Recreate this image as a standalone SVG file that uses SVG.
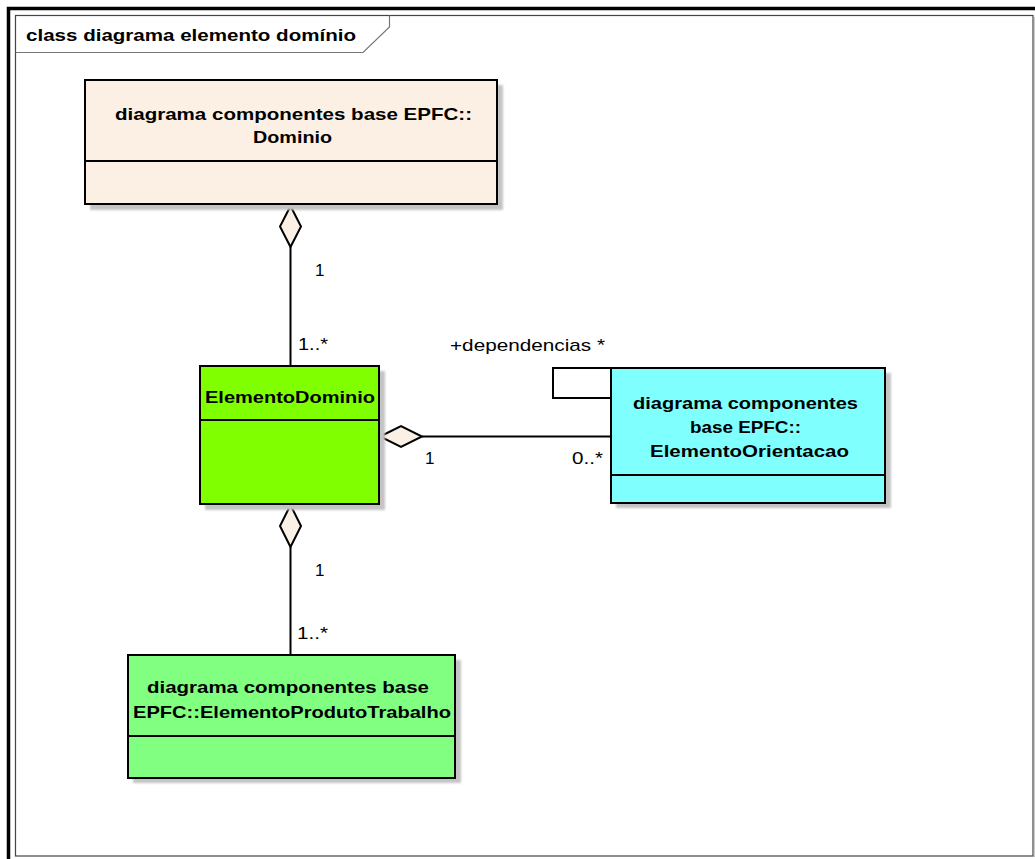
<svg xmlns="http://www.w3.org/2000/svg" width="1035" height="859" viewBox="0 0 1035 859">
  <style>
    .cls { stroke: #000; stroke-width: 2; }
    .shadow { fill: #c4c4c4; }
    .name { font-family: "Liberation Sans", Arial, sans-serif; font-weight: bold; font-size: 17px; fill: #000; }
    .lbl { font-family: "Liberation Sans", Arial, sans-serif; font-size: 17px; fill: #000; }
    .edge { stroke: #000; stroke-width: 2; fill: none; }
    .agg { fill: #faf0e6; stroke: #000; stroke-width: 2; }
  </style>
  <defs>
    <filter id="soft" x="-5%" y="-5%" width="110%" height="110%">
      <feGaussianBlur stdDeviation="1"/>
    </filter>
  </defs>

  <rect width="1035" height="859" fill="#fff"/>

  <!-- diagram frame -->
  <g id="frame">
    <path d="M8.5,859 V8.5 H1035" fill="none" stroke="#000" stroke-width="3.5"/>
    <rect x="15.5" y="15.5" width="1017.5" height="840.5" fill="none" stroke="#444" stroke-width="1.2"/>
    <line x1="1034" y1="17" x2="1034" y2="857" stroke="#999" stroke-width="1"/>
    <path d="M15.5,52.5 H363 L389.5,27 V15.5" fill="none" stroke="#777" stroke-width="1.2"/>
    <text class="name" x="26" y="41" textLength="330" lengthAdjust="spacingAndGlyphs">class diagrama elemento domínio</text>
  </g>

  <!-- connectors -->
  <g id="connectors">
    <!-- Dominio <>— ElementoDominio -->
    <line class="edge" x1="290.5" y1="247" x2="290.5" y2="366"/>
    <path class="agg" d="M290.5,206 L280,226.5 L290.5,247 L301,226.5 Z"/>
    <text class="lbl" x="315" y="276">1</text>
    <text class="lbl" x="298" y="350" textLength="30" lengthAdjust="spacingAndGlyphs">1..*</text>

    <!-- ElementoDominio <>— ElementoOrientacao -->
    <line class="edge" x1="422" y1="436.5" x2="611" y2="436.5"/>
    <path class="agg" d="M380,436.5 L401,426 L422,436.5 L401,447 Z"/>
    <text class="lbl" x="425" y="464">1</text>
    <text class="lbl" x="572" y="464" textLength="31" lengthAdjust="spacingAndGlyphs">0..*</text>

    <!-- ElementoOrientacao self association -->
    <path class="edge" d="M611,368 H553 V398 H611"/>
    <text class="lbl" x="450" y="351" textLength="155" lengthAdjust="spacingAndGlyphs">+dependencias *</text>

    <!-- ElementoDominio <>— ElementoProdutoTrabalho -->
    <line class="edge" x1="290.5" y1="547" x2="290.5" y2="655"/>
    <path class="agg" d="M290.5,505 L280,526 L290.5,547 L301,526 Z"/>
    <text class="lbl" x="315" y="576">1</text>
    <text class="lbl" x="297" y="639" textLength="31" lengthAdjust="spacingAndGlyphs">1..*</text>
  </g>

  <!-- class: Dominio -->
  <g id="dominio">
    <rect class="shadow" x="90" y="85" width="413" height="125" filter="url(#soft)"/>
    <rect class="cls" x="85" y="80" width="412" height="124" fill="#fbf0e3"/>
    <line class="cls" x1="85" y1="161" x2="497" y2="161"/>
    <text class="name" x="115" y="120" textLength="357" lengthAdjust="spacingAndGlyphs">diagrama componentes base EPFC::</text>
    <text class="name" x="253" y="143" textLength="79" lengthAdjust="spacingAndGlyphs">Dominio</text>
  </g>

  <!-- class: ElementoDominio -->
  <g id="elementoDominio">
    <rect class="shadow" x="205" y="371" width="180" height="139" filter="url(#soft)"/>
    <rect class="cls" x="200" y="366" width="179" height="138" fill="#80ff00"/>
    <line class="cls" x1="200" y1="420" x2="379" y2="420"/>
    <text class="name" x="205" y="403" textLength="170" lengthAdjust="spacingAndGlyphs">ElementoDominio</text>
  </g>

  <!-- class: ElementoOrientacao -->
  <g id="elementoOrientacao">
    <rect class="shadow" x="616" y="373" width="275" height="135" filter="url(#soft)"/>
    <rect class="cls" x="611" y="368" width="274" height="135" fill="#80ffff"/>
    <line class="cls" x1="611" y1="475" x2="885" y2="475"/>
    <text class="name" x="633" y="409" textLength="225" lengthAdjust="spacingAndGlyphs">diagrama componentes</text>
    <text class="name" x="690" y="433" textLength="111" lengthAdjust="spacingAndGlyphs">base EPFC::</text>
    <text class="name" x="650" y="457" textLength="199" lengthAdjust="spacingAndGlyphs">ElementoOrientacao</text>
  </g>

  <!-- class: ElementoProdutoTrabalho -->
  <g id="elementoProdutoTrabalho">
    <rect class="shadow" x="133" y="660" width="328" height="123" filter="url(#soft)"/>
    <rect class="cls" x="128" y="655" width="327" height="123" fill="#80ff80"/>
    <line class="cls" x1="128" y1="736" x2="455" y2="736"/>
    <text class="name" x="147" y="693" textLength="282" lengthAdjust="spacingAndGlyphs">diagrama componentes base</text>
    <text class="name" x="133" y="718" textLength="318" lengthAdjust="spacingAndGlyphs">EPFC::ElementoProdutoTrabalho</text>
  </g>
</svg>
